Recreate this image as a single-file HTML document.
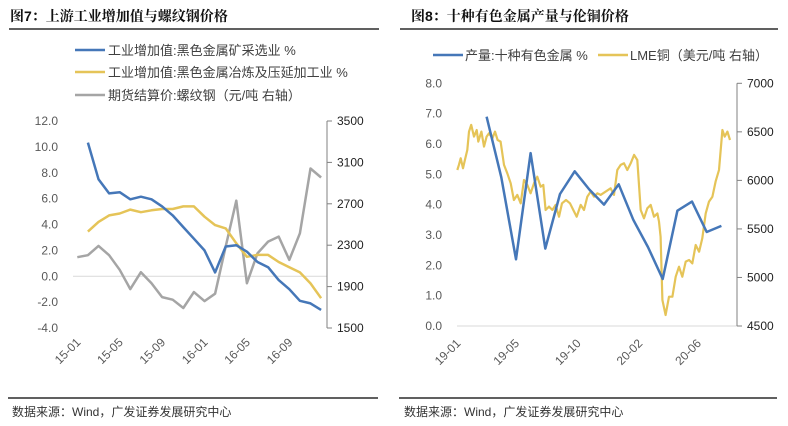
<!DOCTYPE html>
<html><head><meta charset="utf-8"><style>
body{margin:0;background:#fff;}
svg{display:block;font-family:"Liberation Sans","Noto Sans CJK SC",sans-serif;}
.t{font-size:12px;fill:#595959}
.lg{font-size:13px;fill:#404040}
.ti{font-size:14px;font-weight:bold;fill:#111;font-family:"Liberation Sans","Noto Serif CJK SC",serif}
.src{font-size:12px;fill:#333}
</style></head><body>
<svg id="c" width="788" height="426">
<text class="ti" x="10" y="21">图7：上游工业增加值与螺纹钢价格</text>
<line x1="9" y1="29" x2="379" y2="29" stroke="#000" stroke-width="1.2"/>
<text class="ti" x="411" y="21">图8：十种有色金属产量与伦铜价格</text>
<line x1="400" y1="29" x2="778" y2="29" stroke="#000" stroke-width="1.2"/>
<g>
<line x1="75" y1="50" x2="105" y2="50" stroke="#4577B8" stroke-width="2.5"/><text class="lg" x="108" y="55">工业增加值:黑色金属矿采选业 %</text>
<line x1="75" y1="72" x2="105" y2="72" stroke="#E5C458" stroke-width="2.5"/><text class="lg" x="108" y="77">工业增加值:黑色金属冶炼及压延加工业 %</text>
<line x1="75" y1="95" x2="105" y2="95" stroke="#A5A5A5" stroke-width="2.5"/><text class="lg" x="108" y="100">期货结算价:螺纹钢（元/吨 右轴）</text>
</g>
<g>
<line x1="433" y1="55" x2="463" y2="55" stroke="#4577B8" stroke-width="2.5"/><text class="lg" x="465" y="60">产量:十种有色金属 %</text>
<line x1="598" y1="55" x2="628" y2="55" stroke="#E5C458" stroke-width="2.5"/><text class="lg" x="630" y="60">LME铜（美元/吨 右轴）</text>
</g>
<g id="g7"></g><g id="g8"></g>
<line x1="8" y1="398" x2="378" y2="398" stroke="#000" stroke-width="1.2"/>
<line x1="399" y1="398" x2="777" y2="398" stroke="#000" stroke-width="1.2"/>
<text class="src" x="12" y="416">数据来源：Wind，广发证券发展研究中心</text>
<text class="src" x="404" y="416">数据来源：Wind，广发证券发展研究中心</text>
</svg>
<script>
// Chart 7 data (month index 0 = 2015-01)
const c7Labels=["15-01","15-05","15-09","16-01","16-05","16-09"];
const c7LabelMonths=[0,4,8,12,16,20];
const c7LeftTicks=[12,10,8,6,4,2,0,-2,-4];
const c7RightTicks=[3500,3100,2700,2300,1900,1500];
const c7Mining=[null,10.33,7.5,6.4,6.5,5.95,6.15,5.95,5.4,4.7,3.8,2.9,2.0,0.3,2.3,2.4,1.9,1.1,0.7,-0.3,-1.0,-1.9,-2.1,-2.6];
const c7Smelting=[null,3.45,4.2,4.7,4.85,5.15,4.95,5.1,5.2,5.2,5.4,5.4,4.6,3.95,3.7,2.55,1.5,1.65,1.65,1.1,0.7,0.3,-0.55,-1.7];
const c7Rebar=[2184,2203,2293,2203,2062,1876,2039,1933,1799,1773,1693,1847,1760,1831,2287,2730,1933,2222,2335,2383,2158,2415,3041,2954];

// Chart 8 data (month index 0 = 2019-01)
const c8Labels=["19-01","19-05","19-10","20-02","20-06"];
const c8LabelMonths=[0,4,8.2,12.4,16.4];
const c8LeftTicks=[8,7,6,5,4,3,2,1,0];
const c8RightTicks=[7000,6500,6000,5500,5000,4500];
const c8OutMonths=[2,3,4,5,6,7,8,9,10,11,12,13,14,15,16,17,18];
const c8Output=[6.9,4.9,2.2,5.7,2.55,4.35,5.1,4.5,4.0,4.67,3.5,2.6,1.55,3.8,4.1,3.1,3.3];
const c8LmeMonths=[0,0.11,0.23,0.39,0.52,0.68,0.8,0.95,1.14,1.32,1.43,1.64,1.82,2.0,2.16,2.39,2.57,2.75,2.95,3.18,3.41,3.64,3.86,4.09,4.32,4.55,4.77,5.0,5.23,5.45,5.68,5.86,6.02,6.25,6.48,6.7,6.93,7.14,7.41,7.68,7.91,8.14,8.41,8.64,8.86,9.09,9.32,9.55,9.77,10.45,10.68,10.91,11.14,11.36,11.59,11.82,12.05,12.27,12.5,12.73,12.95,13.18,13.41,13.64,13.75,13.86,13.98,14.2,14.43,14.66,14.89,15.11,15.34,15.57,15.8,16.02,16.25,16.48,16.7,16.93,17.16,17.39,17.61,17.84,18.07,18.23,18.41,18.59];
const c8Lme=[6107,6159,6227,6124,6210,6313,6502,6571,6451,6519,6399,6502,6348,6451,6485,6433,6502,6416,6399,6159,6073,5970,5798,5850,5764,6004,5953,5867,5970,6038,5935,5953,5695,5730,5695,5747,5626,5764,5798,5764,5695,5626,5747,5695,5832,5884,5832,5867,5850,5918,5850,6107,6159,6176,6107,6176,6262,6210,5695,5609,5712,5747,5626,5660,5575,5420,4768,4613,4802,4802,5008,5111,5008,5163,5180,5145,5334,5265,5403,5660,5781,5832,5987,6107,6519,6451,6502,6416,6502,6330,6639,6588];

const NS="http://www.w3.org/2000/svg";
function mk(parent,tag,attrs){const e=document.createElementNS(NS,tag);for(const k in attrs)e.setAttribute(k,attrs[k]);parent.appendChild(e);return e;}

function drawChart(g,cfg){
  const xs=m=>cfg.x0+m*cfg.dx;
  const yl=v=>cfg.yTop+(cfg.lMax-v)/(cfg.lMax-cfg.lMin)*(cfg.yBot-cfg.yTop);
  const yr=v=>cfg.yTop+(cfg.rMax-v)/(cfg.rMax-cfg.rMin)*(cfg.yBot-cfg.yTop);
  // zero line
  const z=mk(g,'line',{x1:cfg.plotL,x2:cfg.axR,y1:yl(0),y2:yl(0),stroke:'#D9D9D9','stroke-width':1});
  
  
  cfg.lTicks.forEach(v=>{const t=mk(g,'text',{class:'t',x:cfg.lLabX,y:yl(v)+4,'text-anchor':'end'});t.textContent=v.toFixed(1);
    
    });
  const ax=mk(g,'line',{x1:cfg.axR,x2:cfg.axR,y1:cfg.yTop,y2:cfg.yBot,stroke:'#808080','stroke-width':1});
  
  
  cfg.rTicks.forEach(v=>{mk(g,'line',{x1:cfg.axR,x2:cfg.axR+5,y1:yr(v),y2:yr(v),stroke:'#808080'});
    const t=mk(g,'text',{class:'t',x:cfg.axR+10,y:yr(v)+4,fill:'#222'});t.textContent=v;t.style.fill='#222';
    
    });
  cfg.xLabels.forEach((s,i)=>{const x=xs(cfg.xLabelM[i])+4;const t=mk(g,'text',{class:'t','text-anchor':'end',transform:`translate(${x},${cfg.xLabY}) rotate(-45)`});t.textContent=s;
    
    });
  cfg.series.forEach(s=>{let d='';let pen=false;s.vals.forEach((v,i)=>{if(v==null){pen=false;return;}const m=s.months?s.months[i]:i;const y=(s.right?yr:yl)(v);d+=(pen?'L':'M')+xs(m).toFixed(1)+' '+y.toFixed(1);pen=true;});
    const p=mk(g,'path',{d:d,fill:'none',stroke:s.color,'stroke-width':s.w||2.5,'stroke-linejoin':'round'});
    
    });
}
drawChart(document.getElementById('g7'),{x0:77.3,dx:10.6,yTop:121,yBot:328,lMax:12,lMin:-4,rMax:3500,rMin:1500,plotL:73,axR:327,lLabX:58,xLabY:343,
  lTicks:c7LeftTicks,rTicks:c7RightTicks,xLabels:c7Labels,xLabelM:c7LabelMonths,
  series:[{vals:c7Rebar,right:true,color:'#A5A5A5',name:'rebar-price-line'},{vals:c7Smelting,color:'#E5C458',name:'smelting-line'},{vals:c7Mining,color:'#4577B8',name:'mining-line'}]});
drawChart(document.getElementById('g8'),{x0:457.3,dx:14.67,yTop:83.3,yBot:326,lMax:8,lMin:0,rMax:7000,rMin:4500,plotL:457,axR:737,lLabX:442,xLabY:344,
  lTicks:c8LeftTicks,rTicks:c8RightTicks,xLabels:c8Labels,xLabelM:c8LabelMonths,
  series:[{vals:c8Lme,months:c8LmeMonths,right:true,color:'#E5C458',name:'lme-copper-line',w:2.2},{vals:c8Output,months:c8OutMonths,color:'#4577B8',name:'output-line'}]});
</script>
</body></html>
